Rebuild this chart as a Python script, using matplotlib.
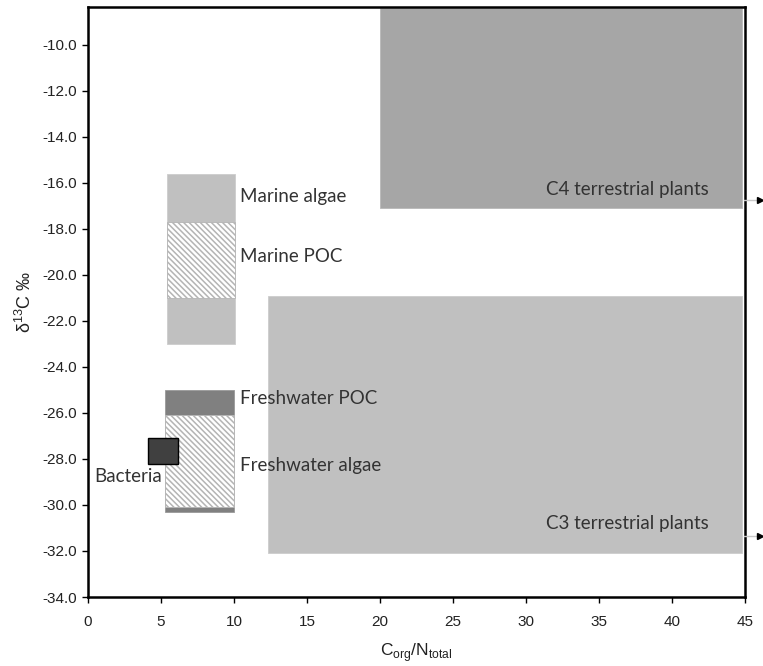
import matplotlib
matplotlib.use("Agg")
import matplotlib.pyplot as plt
from matplotlib.patches import Rectangle

# ---- data (C/N range, d13C range) ----
groups = ["C4 terrestrial plants", "C3 terrestrial plants", "Marine algae", "Marine POC",
          "Freshwater POC", "Freshwater algae", "Bacteria"]
cn_min = [20.0, 12.3, 5.4, 5.4, 5.3, 5.3, 4.1]
cn_max = [44.8, 44.8, 10.1, 10.1, 10.0, 10.0, 6.2]
d13c_min = [-17.1, -32.1, -23.0, -21.0, -30.3, -30.1, -28.2]
d13c_max = [-8.4, -20.9, -15.6, -17.7, -25.0, -26.1, -27.1]

xticks = [0, 5, 10, 15, 20, 25, 30, 35, 40, 45]
yticks = [-34, -32, -30, -28, -26, -24, -22, -20, -18, -16, -14, -12, -10]

styles = {
    "C4 terrestrial plants": dict(fc="#a6a6a6", ec="#b8b8b8", hatch=None),
    "C3 terrestrial plants": dict(fc="#c0c0c0", ec="#cccccc", hatch=None),
    "Marine algae": dict(fc="#c0c0c0", ec="#cccccc", hatch=None),
    "Marine POC": dict(fc="white", ec="#b4b4b4", hatch="\\\\\\\\\\\\"),
    "Freshwater POC": dict(fc="#808080", ec="#999999", hatch=None),
    "Freshwater algae": dict(fc="white", ec="#b4b4b4", hatch="\\\\\\\\\\\\"),
    "Bacteria": dict(fc="#404040", ec="#000000", hatch=None),
}

plt.rcParams["hatch.linewidth"] = 1.1
fig = plt.figure(figsize=(7.63, 6.66), dpi=100)
ax = fig.add_axes([0.1153, 0.1036, 0.8611, 0.8859])

for g, x0, x1, y0, y1 in zip(groups, cn_min, cn_max, d13c_min, d13c_max):
    st = styles[g]
    ax.add_patch(Rectangle((x0, y0), x1 - x0, y1 - y0, facecolor=st["fc"],
                           edgecolor=st["ec"], hatch=st["hatch"],
                           linewidth=1.0 if g == "Bacteria" else 0.6, zorder=2))

lab_font = dict(family=["Lato", "DejaVu Sans"], fontsize=13.5, color="#333333")
ax.text(10.4, -16.6, "Marine algae", va="center", ha="left", **lab_font)
ax.text(10.4, -19.2, "Marine POC", va="center", ha="left", **lab_font)
ax.text(10.4, -25.35, "Freshwater POC", va="center", ha="left", **lab_font)
ax.text(10.4, -28.3, "Freshwater algae", va="center", ha="left", **lab_font)
ax.text(0.45, -28.75, "Bacteria", va="center", ha="left", **lab_font)
ax.text(42.5, -16.3, "C4 terrestrial plants", va="center", ha="right", **lab_font)
ax.text(42.5, -30.8, "C3 terrestrial plants", va="center", ha="right", **lab_font)

# small leader arrows outside the plot at right
for yv in [-16.74, -31.35]:
    ax.plot([44.9, 45.9], [yv, yv], color="#c8c8c8", lw=1.0, clip_on=False, zorder=4)
    ax.plot([46.0], [yv], marker=">", color="black", markersize=4, clip_on=False, zorder=5)

ax.set_xlim(0, 45)
ax.set_ylim(-34, -8.35)
ax.set_xticks(xticks)
ax.set_yticks(yticks)
ax.set_xticklabels([str(v) for v in xticks])
ax.set_yticklabels([f"{v:.1f}" for v in yticks])
for sp in ax.spines.values():
    sp.set_linewidth(1.8)
    sp.set_color("black")
ax.tick_params(direction="out", length=4, width=1, colors="black",
               labelsize=11, labelcolor="#222222", pad=4)
ax.tick_params(axis="x", pad=9)
for lbl in ax.get_xticklabels() + ax.get_yticklabels():
    lbl.set_family(["Liberation Sans", "DejaVu Sans"])

ax.set_ylabel("δ$^{\\mathregular{13}}$C ‰", fontsize=13, family=["Liberation Sans", "DejaVu Sans"],
              color="#222222", labelpad=5)
ax.set_xlabel(r"C$_{\mathregular{org}}$/N$_{\mathregular{total}}$", fontsize=12.5,
              family=["Liberation Sans", "DejaVu Sans"], color="#222222", labelpad=9)

fig.savefig("out.png", dpi=100)
